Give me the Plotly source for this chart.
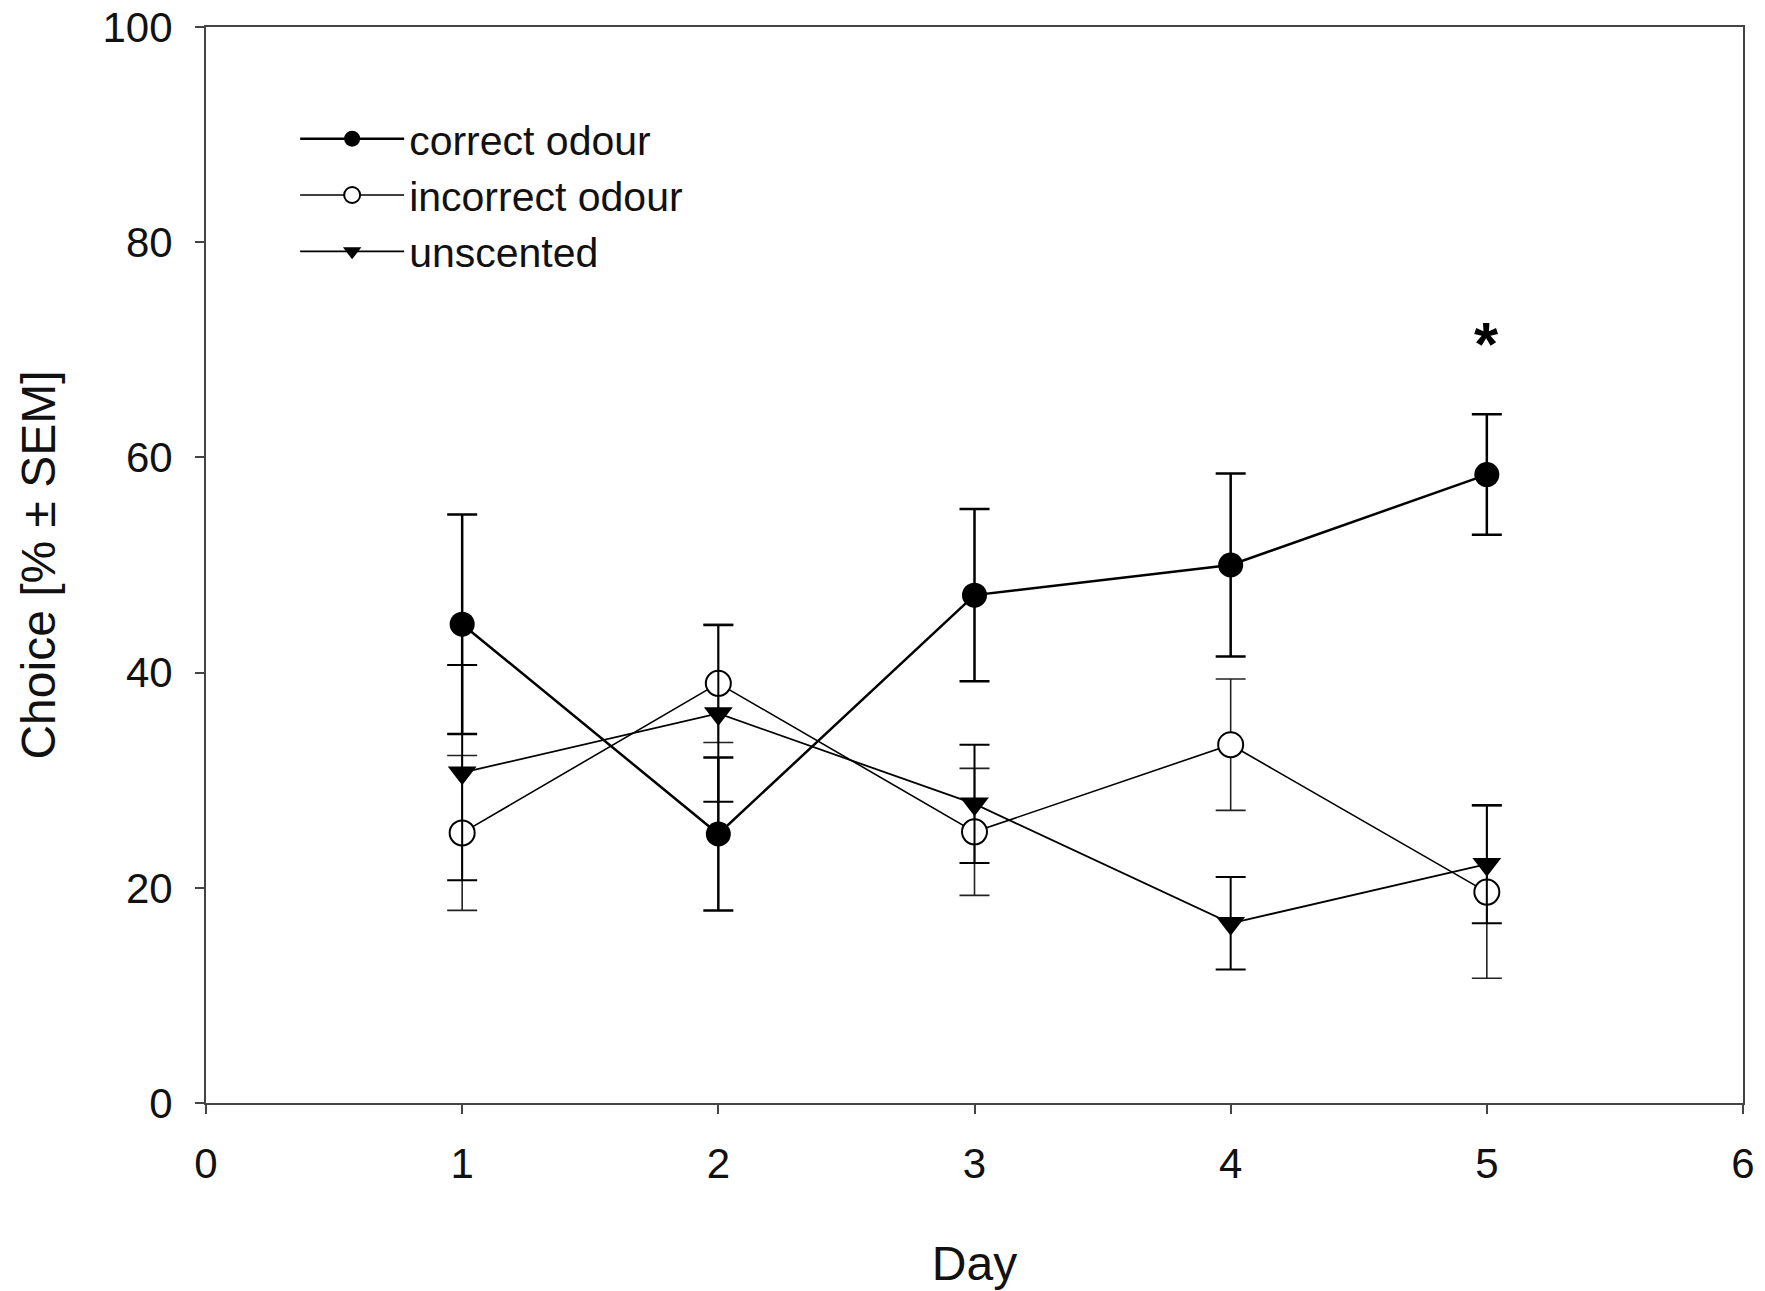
import plotly.graph_objects as go

days = [1, 2, 3, 4, 5]
correct = [44.5, 25.0, 47.2, 50.0, 58.4]
correct_sem = [10.2, 7.1, 8.0, 8.5, 5.6]
incorrect = [25.1, 39.0, 25.2, 33.3, 19.6]
incorrect_sem = [7.2, 5.5, 5.9, 6.1, 8.0]
unscented = [30.7, 36.2, 27.8, 16.7, 22.2]
unscented_sem = [10.0, 8.2, 5.5, 4.3, 5.5]

x_ticks = [0, 1, 2, 3, 4, 5, 6]
y_ticks = [0, 20, 40, 60, 80, 100]

FONT = "Liberation Sans, Arial, sans-serif"

fig = go.Figure()

fig.add_trace(go.Scatter(
    x=days, y=correct, name="correct odour", mode="lines+markers",
    line=dict(color="black", width=2.5),
    marker=dict(symbol="circle", size=25, color="black"),
    error_y=dict(type="data", array=correct_sem, visible=True,
                 color="black", thickness=2.5, width=15),
))
fig.add_trace(go.Scatter(
    x=days, y=incorrect, name="incorrect odour", mode="lines+markers",
    line=dict(color="black", width=1.6),
    marker=dict(symbol="circle", size=25, color="white",
                line=dict(color="black", width=2)),
    error_y=dict(type="data", array=incorrect_sem, visible=True,
                 color="#222222", thickness=1.6, width=15),
))
fig.add_trace(go.Scatter(
    x=days, y=unscented, name="unscented", mode="lines+markers",
    line=dict(color="black", width=1.8),
    marker=dict(symbol="triangle-down", size=25, color="black"),
    error_y=dict(type="data", array=unscented_sem, visible=True,
                 color="black", thickness=2, width=15),
))

fig.add_annotation(x=5, y=70.6, xref="x", yref="y", text="<b>*</b>",
                   showarrow=False, font=dict(size=62, family=FONT, color="black"),
                   yanchor="middle")

axis_common = dict(
    showgrid=False, zeroline=False, showline=True, linecolor="#444444",
    linewidth=2, mirror=True, ticks="outside", ticklen=9, tickwidth=2,
    tickcolor="#444444", tickfont=dict(size=42, family=FONT, color="#111111"),
    automargin=False,
)

fig.update_xaxes(range=[0, 6], tickvals=x_ticks, ticklabelstandoff=14,
                 title=dict(text="Day", font=dict(size=48, family=FONT, color="#111111"),
                            standoff=60),
                 **axis_common)
fig.update_yaxes(range=[0, 100], tickvals=y_ticks, ticklabelstandoff=14,
                 title=dict(text="Choice [% ± SEM]",
                            font=dict(size=48, family=FONT, color="#111111"), standoff=32),
                 **axis_common)

fig.update_layout(
    width=1765, height=1291,
    margin=dict(l=206, r=22, t=27, b=188),
    paper_bgcolor="white", plot_bgcolor="white",
    font=dict(family=FONT, color="#111111"),
    showlegend=True,
    legend=dict(x=0.058, y=0.927, xanchor="left", yanchor="top",
                font=dict(size=41, family=FONT, color="#111111"),
                bgcolor="rgba(0,0,0,0)", itemwidth=104, tracegroupgap=0),
)

fig.write_html("out.html")
